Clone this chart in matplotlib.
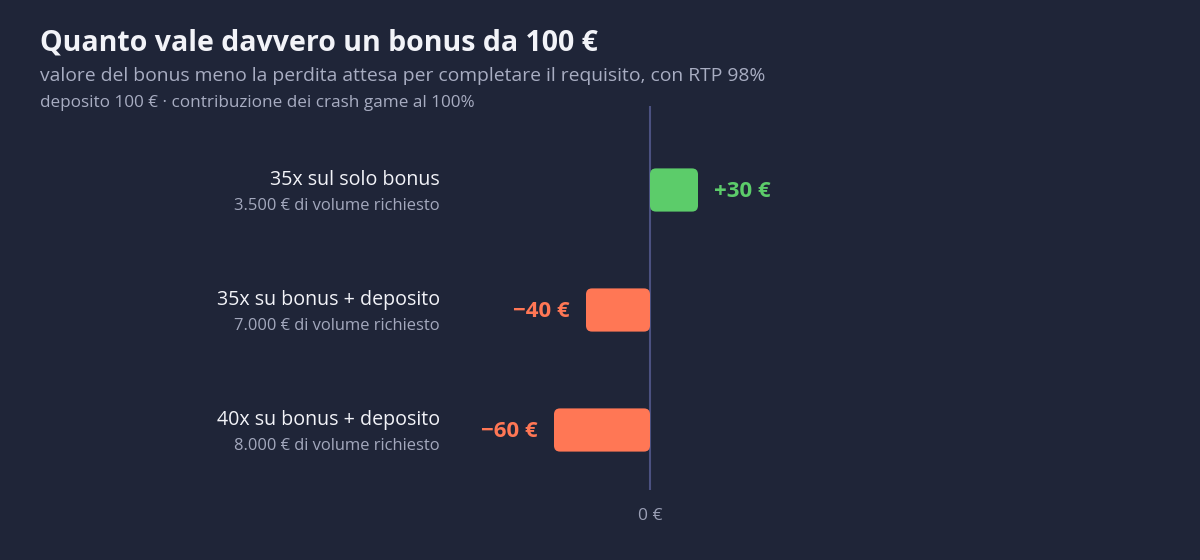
import matplotlib.pyplot as plt
from matplotlib.patches import FancyBboxPatch

# data
categories = ["35x sul solo bonus", "35x su bonus + deposito", "40x su bonus + deposito"]
volumes = ["3.500 € di volume richiesto", "7.000 € di volume richiesto", "8.000 € di volume richiesto"]
values = [30, -40, -60]

BG = "#1f2538"
GREEN = "#5ccc6a"
ORANGE = "#ff7755"
plt.rcParams['font.family'] = ['Open Sans', 'DejaVu Sans']

fig = plt.figure(figsize=(12, 5.6), dpi=100, facecolor=BG)
# axes placed so that 0 € sits at x=650px, rows 120px apart
ax = fig.add_axes([540 / 1200, 1 - 490 / 560, 360 / 1200, 384 / 560])
ax.set_facecolor(BG)
ax.set_xlim(-110 / 1.6, 250 / 1.6)
ax.set_ylim(2.5, -0.7)
for s in ax.spines.values():
    s.set_visible(False)
ax.set_xticks([])
ax.set_yticks([])

ax.axvline(0, color="#4b5180", lw=1.5, zorder=1)

bar_h = 0.36
px_x = 1 / 1.6      # data units per pixel in x
px_y = 1 / 120      # data units per pixel in y
r = 6 * px_x
for i, v in enumerate(values):
    color = GREEN if v > 0 else ORANGE
    x0 = min(0, v)
    box = FancyBboxPatch((x0, i - bar_h / 2), abs(v), bar_h,
                         boxstyle=f"round,pad=0,rounding_size={r}",
                         mutation_aspect=px_y / px_x,
                         fc=color, ec="none", zorder=2)
    ax.add_patch(box)
    label = f"+{v} €" if v > 0 else f"\u2212{abs(v)} €"
    if v > 0:
        ax.text(v + 16 * px_x, i + 1.5 * px_y, label, ha="left", va="center",
                color=color, fontsize=16, fontweight="bold")
    else:
        ax.text(v - 16 * px_x, i + 1.5 * px_y, label, ha="right", va="center",
                color=color, fontsize=16, fontweight="bold")

# category labels on the left
for i, (cat, vol) in enumerate(zip(categories, volumes)):
    y_px = 190 + 120 * i
    fig.text(440 / 1200, 1 - (y_px - 10) / 560, cat, ha="right", va="center",
             color="#f2f3f8", fontsize=14.1)
    fig.text(440 / 1200, 1 - (y_px + 16) / 560, vol, ha="right", va="center",
             color="#a3a8bd", fontsize=11.9)

fig.text(650 / 1200, 1 - 516 / 560, "0 €", ha="center", va="center",
         color="#9a9fb5", fontsize=12.5)

fig.text(40 / 1200, 1 - 43 / 560, "Quanto vale davvero un bonus da 100 €",
         ha="left", va="center", color="#f2f3f8", fontsize=20.5, fontweight="bold")
fig.text(40 / 1200, 1 - 76 / 560,
         "valore del bonus meno la perdita attesa per completare il requisito, con RTP 98%",
         ha="left", va="center", color="#a8adc2", fontsize=13.9)
fig.text(40 / 1200, 1 - 103 / 560,
         "deposito 100 € · contribuzione dei crash game al 100%",
         ha="left", va="center", color="#a8adc2", fontsize=12.3)

fig.savefig("out.png", dpi=100, facecolor=BG)
